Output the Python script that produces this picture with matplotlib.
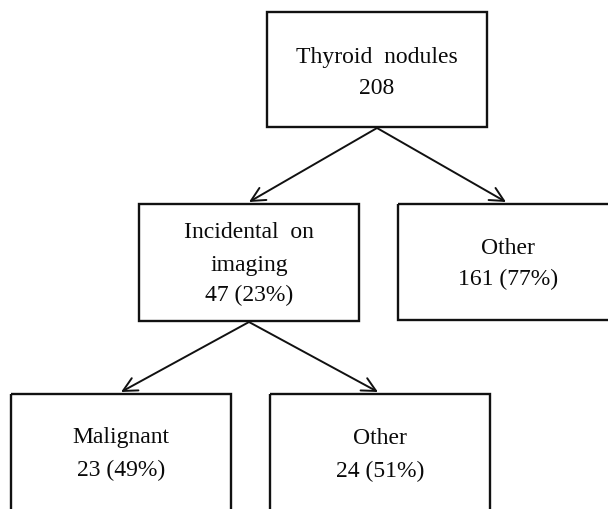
import matplotlib.pyplot as plt
from matplotlib.patches import Rectangle

# data
titles = ["Thyroid  nodules", "Incidental  on\nimaging", "Other", "Malignant", "Other"]
counts = [208, 47, 161, 23, 24]
percents = [None, 23, 77, 49, 51]
edges = [(0, 1), (0, 2), (1, 3), (1, 4)]

# layout (pixels, y down)
boxes = [(267, 12, 220, 115), (139, 204, 220, 117), (398, 204, 220, 116),
         (11, 394, 220, 125), (270, 394, 220, 125)]
text_y = [[57, 88], [233, 265, 295], [248, 279], [438, 470], [439, 471]]

plt.rcParams['font.family'] = ['Liberation Serif', 'DejaVu Serif']

fig = plt.figure(figsize=(6.08, 5.09), dpi=100)
ax = fig.add_axes([0, 0, 1, 1])
ax.set_xlim(0, 608)
ax.set_ylim(509, 0)
ax.axis('off')

for i, (x, y, w, h) in enumerate(boxes):
    ax.add_patch(Rectangle((x, y), w, h, fill=False, edgecolor='#111111', linewidth=1.7))
    lines = titles[i].split("\n")
    if percents[i] is None:
        lines.append(str(counts[i]))
    else:
        lines.append(f"{counts[i]} ({percents[i]}%)")
    cx = x + w / 2
    for line, ty in zip(lines, text_y[i]):
        ax.text(cx, ty, line, ha='center', va='center', fontsize=17, color='#0a0a0a')

for a, b in edges:
    xa, ya, wa, ha_ = boxes[a]
    xb, yb, wb, hb = boxes[b]
    start = (xa + wa / 2, ya + ha_ + 1)
    if xb + wb / 2 < start[0]:
        end = (start[0] - 128, yb - 2)
    else:
        end = (start[0] + 129, yb - 2)
    ax.annotate("", xy=end, xytext=start,
                arrowprops=dict(arrowstyle="->,head_length=1.0,head_width=0.5",
                                color='#111111', linewidth=1.4,
                                shrinkA=0, shrinkB=0))

fig.savefig("out.png", dpi=100)
